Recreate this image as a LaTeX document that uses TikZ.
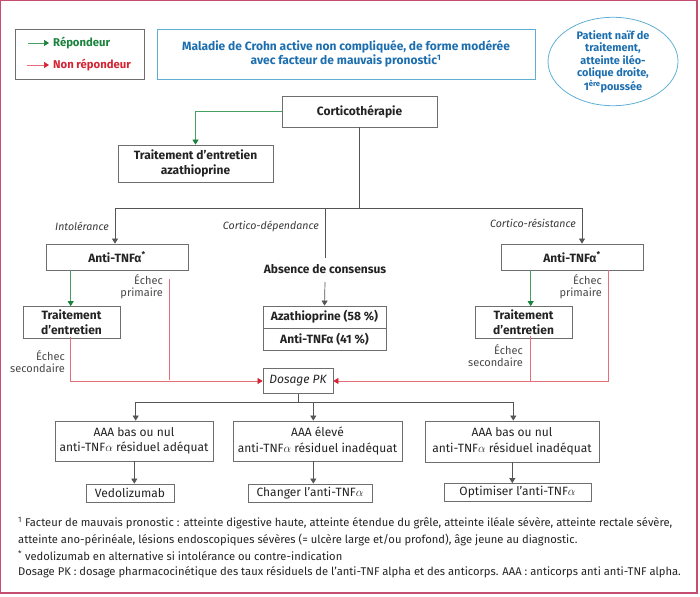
\documentclass[tikz,border=0pt]{standalone}
\usepackage{fontspec}
\setmainfont{Fira Sans}
\usetikzlibrary{arrows.meta,shapes.geometric}
\definecolor{framec}{RGB}{198,76,112}
\definecolor{bgray}{RGB}{110,110,110}
\definecolor{lgray}{RGB}{85,85,85}
\definecolor{lblue}{RGB}{95,175,212}
\definecolor{tblue}{RGB}{28,110,175}
\definecolor{greentip}{RGB}{25,130,60}
\definecolor{greenline}{RGB}{70,160,95}
\definecolor{redtip}{RGB}{212,35,50}
\definecolor{redline}{RGB}{228,110,122}
\definecolor{txt}{RGB}{35,35,35}
\begin{document}
\begin{tikzpicture}[x=1pt,y=-1pt,
 box/.style={draw=bgray, line width=0.8pt, fill=white, inner sep=1pt, align=center, text=txt, font=\bfseries\fontsize{12}{15}\selectfont},
 rbox/.style={box, font=\fontsize{12}{15.5}\selectfont},
 lbl/.style={font=\fontsize{11}{12}\selectfont, text=black!72, align=right, anchor=east, inner sep=0},
 ital/.style={font=\itshape\fontsize{10.6}{12}\selectfont, text=black!78, anchor=east, inner sep=0},
 conn/.style={draw=lgray, line width=0.7pt},
 arr/.style={conn, -{Triangle[width=6pt,length=5pt]}},
 garr/.style={draw=greenline, line width=0.7pt, -{Triangle[width=6pt,length=5pt,color=greentip]}},
 rline/.style={draw=redline, line width=0.7pt},
 rarr/.style={rline, -{Triangle[width=6pt,length=5pt,color=redtip]}},
 foot/.style={anchor=west, inner sep=0, text=txt, font=\fontsize{11.2}{13}\selectfont}
]
\useasboundingbox (0,0) rectangle (700,596);
\draw[framec, line width=1.2pt] (0.8,0.3) rectangle (697,593);

% legend
\node[draw=bgray, line width=0.8pt, minimum width=129pt, minimum height=50pt, inner sep=0] (legend) at (79.5,54) {};
\coordinate (lg1) at (28,43);
\coordinate (lg2) at (27,65);
\node[anchor=west, inner sep=0, text=greentip, font=\bfseries\fontsize{11.3}{12}\selectfont] (rep) at (53,43) {Répondeur};
\node[anchor=west, inner sep=0, text=redtip, font=\bfseries\fontsize{11.3}{12}\selectfont] (nrep) at (53,65) {Non répondeur};
\draw[garr] (lg1) -- ([xshift=-4pt]rep.west);
\draw[rarr] (lg2) -- ([xshift=-4pt]nrep.west);

% title
\node[draw=lblue, line width=0.8pt, minimum width=378pt, minimum height=50pt, inner sep=0, align=center, text=tblue, font=\bfseries\fontsize{12}{14}\selectfont] (title) at (346,54) {Maladie de Crohn active non compliquée, de forme modérée\\avec facteur de mauvais pronostic\textsuperscript{1}};

\node[draw=lblue, line width=0.8pt, ellipse, minimum width=130pt, minimum height=81pt, inner sep=0, align=center, text=tblue, font=\bfseries\fontsize{10.9}{12.5}\selectfont] (pat) at (613,61.5) {Patient naïf de\\traitement,\\atteinte iléo-\\colique droite,\\1\textsuperscript{ère}poussée};

% main
\node[box, minimum width=155pt, minimum height=31pt] (cort) at (359.5,111.5) {Corticothérapie};
\node[box, minimum width=155pt, minimum height=37pt] (tra) at (195.5,163.5) {Traitement d’entretien\\azathioprine};
\draw[garr] (cort.west) -| (tra.north);

\coordinate (jc) at (359.5,208);
\coordinate (jl) at (115,208);
\coordinate (jr) at (582,208);
\coordinate (jm) at (325,208);
\draw[conn] (cort.south) -- (jc);
\draw[conn] (jl) -- (jr);

\node[box, minimum width=142pt, minimum height=26pt] (antl) at (117,257) {Anti-TNFα\textsuperscript{*}};
\node[box, minimum width=142pt, minimum height=26pt] (antr) at (572,257) {Anti-TNFα\textsuperscript{*}};
\draw[arr] (jl) -- (antl.north -| jl);
\draw[arr] (jr) -- (antr.north -| jr);

\node[ital] (intol) at (109,226) {Intolérance};
\node[ital] (cdep) at (319,226) {Cortico-dépendance};
\node[ital] (cres) at (576,223) {Cortico-résistance};

\node[inner sep=0, text=txt, font=\bfseries\fontsize{12}{14}\selectfont] (abs) at (325,269) {Absence de consensus};
\coordinate (jm2) at (325,258);
\coordinate (jm3) at (325,282);
\draw[conn] (jm) -- (jm2);
\node[box, minimum width=123pt, minimum height=22pt] (az1) at (324.5,317) {Azathioprine (58 \%)};
\node[box, minimum width=123pt, minimum height=22pt] (az2) at (324.5,339) {Anti-TNFα (41 \%)};
\draw[arr] (jm3) -- (az1.north);

\node[box, minimum width=97pt, minimum height=32pt] (trl) at (71.5,322.5) {Traitement\\d’entretien};
\node[box, minimum width=97pt, minimum height=32pt] (trr) at (523.5,322.5) {Traitement\\d’entretien};

\node[rbox, font=\itshape\fontsize{12}{14}\selectfont, minimum width=70pt, minimum height=25pt] (dos) at (298,381) {Dosage PK};

% left branch connectors
\coordinate (gl) at (70.7,0);
\draw[garr] (antl.south -| gl) -- (trl.north -| gl);
\coordinate (pl1) at (169,279);
\coordinate (pl2) at (169,380);
\draw[rline] (pl1) -- (pl2);
\draw[rarr] ([yshift=1.5pt]trl.south -| gl) |- (dos.west);
\node[lbl] (epl) at (163,287) {Échec\\primaire};
\node[lbl] (esl) at (65,362) {Échec\\secondaire};

% right branch connectors
\coordinate (gr) at (530.7,0);
\coordinate (pr) at (608,0);
\draw[garr] (antr.south -| gr) -- (trr.north -| gr);
\draw[rarr] (antr.south -| pr) |- (dos.east);
\draw[rline] ([yshift=3pt]trr.south -| gr) -- (dos.east -| gr);
\node[lbl] (epr) at (602,287) {Échec\\primaire};
\node[lbl] (esr) at (523,355.5) {Échec\\secondaire};

% bottom
\coordinate (hb) at (298,402);
\coordinate (hbl) at (135.7,402);
\coordinate (hbm) at (313.3,402);
\coordinate (hbr) at (513.3,402);
\draw[conn] (dos.south) -- (hb);
\draw[conn] (hbl) -- (hbr);

\node[rbox, minimum width=158pt, minimum height=40pt] (b1) at (134,441) {AAA bas ou nul\\anti-TNF$\alpha$ résiduel adéquat};
\node[rbox, minimum width=169pt, minimum height=40pt] (b2) at (317.5,441) {AAA élevé\\anti-TNF$\alpha$ résiduel inadéquat};
\node[rbox, minimum width=174pt, minimum height=41pt] (b3) at (512,441.5) {AAA bas ou nul\\anti-TNF$\alpha$ résiduel inadéquat};
\draw[arr] (hbl) -- (b1.north -| hbl);
\draw[arr] (hbm) -- (b2.north -| hbm);
\draw[arr] (hbr) -- (b3.north -| hbr);

\node[rbox, minimum width=88pt, minimum height=18pt] (c1) at (130,493) {Vedolizumab};
\node[rbox, minimum width=124pt, minimum height=18pt] (c2) at (310,493) {Changer l’anti-TNF$\alpha$};
\node[rbox, minimum width=147pt, minimum height=18pt] (c3) at (517.5,492.5) {Optimiser l’anti-TNF$\alpha$};
\coordinate (v1) at (134.3,0);
\coordinate (v2) at (313.3,0);
\coordinate (v3) at (512.3,0);
\draw[arr] (b1.south -| v1) -- (c1.north -| v1);
\draw[arr] (b2.south -| v2) -- (c2.north -| v2);
\draw[arr] (b3.south -| v3) -- (c3.north -| v3);

% footnotes
\node[foot] (f1) at (18,523) {\textsuperscript{1} Facteur de mauvais pronostic : atteinte digestive haute, atteinte étendue du grêle, atteinte iléale sévère, atteinte rectale sévère,};
\node[foot] (f2) at (18,540) {atteinte ano-périnéale, lésions endoscopiques sévères (= ulcère large et/ou profond), âge jeune au diagnostic.};
\node[foot] (f3) at (18,556) {\textsuperscript{*} vedolizumab en alternative si intolérance ou contre-indication};
\node[foot] (f4) at (18,572) {Dosage PK : dosage pharmacocinétique des taux résiduels de l’anti-TNF alpha et des anticorps. AAA : anticorps anti anti-TNF alpha.};
\end{tikzpicture}
\end{document}
